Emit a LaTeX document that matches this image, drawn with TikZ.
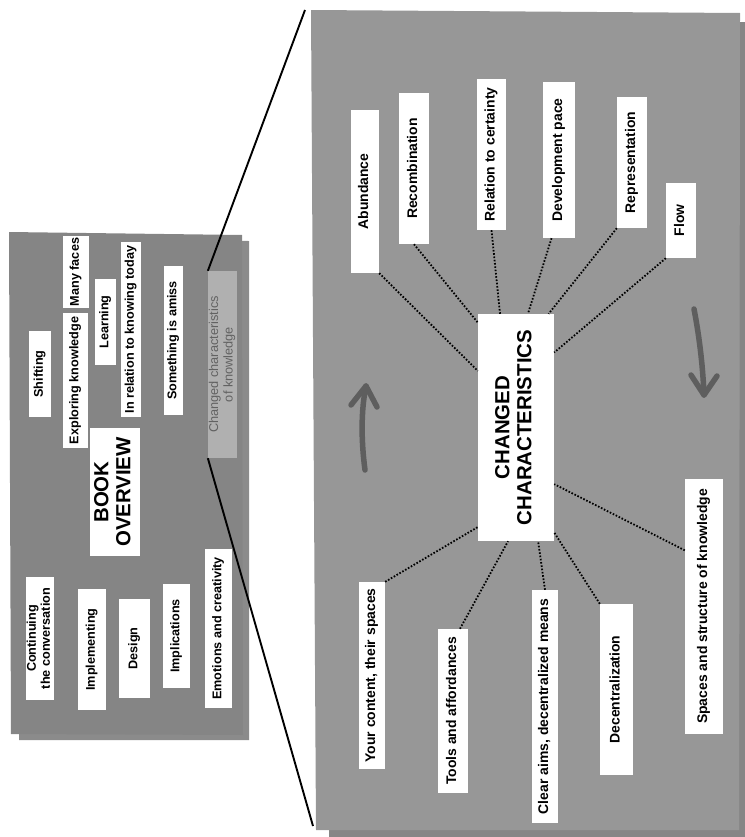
\documentclass[tikz,border=0pt]{standalone}
\usepackage{fontspec}
\usepackage{graphicx}
\setmainfont{Liberation Sans}
\usetikzlibrary{calc}

\definecolor{leftpanel}{HTML}{858585}
\definecolor{leftshadow}{HTML}{8B8B8B}
\definecolor{rightpanel}{HTML}{979797}
\definecolor{rightshadow}{HTML}{868686}
\definecolor{focusfill}{HTML}{B0B0B0}
\definecolor{focustext}{HTML}{626262}
\definecolor{turncolor}{HTML}{5E5E5E}

% text set upright, reading from bottom to top
\newcommand\vlabel[1]{\rotatebox{90}{\begin{tabular}{@{}c@{}}#1\end{tabular}}}

\tikzset{
  card/.style={fill=white, inner sep=0pt, align=center,
    font=\bfseries\fontsize{14}{15.5}\selectfont},
  smallcard/.style={card, font=\bfseries\fontsize{12.7}{14}\selectfont},
  bigcard/.style={card, font=\bfseries\fontsize{20.5}{22}\selectfont},
  focuscard/.style={fill=focusfill, inner sep=0pt, align=center,
    text=focustext, font=\fontsize{12.8}{14.5}\selectfont},
  dotline/.style={black, line width=1.8bp, dash pattern=on 1.6bp off 1.7bp},
  zoomline/.style={black, line width=1.9bp},
  turn/.style={turncolor, line width=5.5bp, line cap=round, line join=round},
}

\begin{document}
\begin{tikzpicture}[x=1bp, y=-1bp]
\useasboundingbox (0,0) rectangle (745,837);

% ---- overview sheet (left) ----
\fill[leftshadow] (19,240) -- (249,241) -- (249,740) -- (19,740) -- cycle;
\fill[leftpanel] (9,232) -- (242,235) -- (243,735) -- (11,734) -- cycle;

% ---- detail sheet (right) ----
\fill[rightshadow] (329,22) -- (745,22) -- (745,837) -- (329,837) -- cycle;
\fill[rightpanel] (311,10) -- (740,13) -- (739,830) -- (316,830) -- cycle;

% ---- overview cards ----
\node[smallcard, minimum width=22bp, minimum height=86bp]  (shift)    at (40,374)     {\vlabel{Shifting}};
\node[smallcard, minimum width=25bp, minimum height=135bp] (explore)  at (75.5,380.5) {\vlabel{Exploring knowledge}};
\node[smallcard, minimum width=26bp, minimum height=72bp]  (faces)    at (76,272)     {\vlabel{Many faces}};
\node[smallcard, minimum width=21bp, minimum height=86bp]  (learning) at (105.5,322)   {\vlabel{Learning}};
\node[smallcard, minimum width=20bp, minimum height=175bp] (knowing)  at (131,329.5)  {\vlabel{In relation to knowing today}};
\node[smallcard, minimum width=19bp, minimum height=149bp] (amiss)    at (173.5,340.5) {\vlabel{Something is amiss}};
\node[focuscard, minimum width=27bp, minimum height=187bp] (ccok)     at (222.5,364.5) {\vlabel{Changed characteristics\\of knowledge}};
\node[bigcard,   minimum width=50bp, minimum height=128bp] (book)     at (115,492)     {\vlabel{BOOK\\OVERVIEW}};
\node[smallcard, minimum width=28bp, minimum height=123bp] (contin)   at (40,638.5)   {\vlabel{Continuing\\the conversation}};
\node[smallcard, minimum width=28bp, minimum height=121bp] (implem)   at (92,649.5)   {\vlabel{Implementing}};
\node[smallcard, minimum width=31bp, minimum height=99bp]  (design)   at (134.5,648.5) {\vlabel{Design}};
\node[smallcard, minimum width=27bp, minimum height=104bp] (implic)   at (176.5,636)  {\vlabel{Implications}};
\node[smallcard, minimum width=27bp, minimum height=159bp] (emotion)  at (218.5,628.5) {\vlabel{Emotions and creativity}};

% ---- zoom lines from the focused card to the detail sheet ----
\coordinate (zt) at (305,10);
\coordinate (zb) at (313,826);
\draw[zoomline] (ccok.north west) -- (zt);
\draw[zoomline] (ccok.south west) -- (zb);

% ---- detail cards ----
\node[bigcard, minimum width=76bp, minimum height=227bp] (cc) at (516,427.5) {\vlabel{CHANGED\\CHARACTERISTICS}};

\node[card, minimum width=28bp, minimum height=163bp] (abund)  at (365,191.5) {\vlabel{Abundance}};
\node[card, minimum width=30bp, minimum height=151bp] (recomb) at (414,168.5) {\vlabel{Recombination}};
\node[card, minimum width=29bp, minimum height=151bp] (rel)    at (491.5,154.5) {\vlabel{Relation to certainty}};
\node[card, minimum width=32bp, minimum height=156bp] (dev)    at (559,160)   {\vlabel{Development pace}};
\node[card, minimum width=30bp, minimum height=131bp] (rep)    at (632,162.5) {\vlabel{Representation}};
\node[card, minimum width=30bp, minimum height=75bp]  (flow)   at (681,220.5) {\vlabel{Flow}};

\node[card, minimum width=26bp, minimum height=187bp] (your)   at (372,675.5) {\vlabel{Your content, their spaces}};
\node[card, minimum width=30bp, minimum height=164bp] (tools)  at (453,711)   {\vlabel{Tools and affordances}};
\node[card, minimum width=26bp, minimum height=233bp] (clear)  at (545,706.5) {\vlabel{Clear aims, decentralized means}};
\node[card, minimum width=33bp, minimum height=171bp] (dec)    at (616.5,689.5) {\vlabel{Decentralization}};
\node[card, minimum width=38bp, minimum height=255bp] (spaces) at (704,606.5) {\vlabel{Spaces and structure of knowledge}};

% ---- dotted spokes ----
\draw[dotline] (abund.south east) -- (cc.124);
\draw[dotline] (recomb.south) -- (cc.110);
\draw[dotline] (rel.south) -- (cc.98);
\draw[dotline] ($(dev.south west)!0.27!(dev.south east)$) -- (cc.84);
\draw[dotline] (rep.south west) -- (cc.74);
\draw[dotline] (flow.south west) -- (cc.63);
\draw[dotline] (your.north east) -- (cc.249);
\draw[dotline] ($(tools.north west)!0.73!(tools.north east)$) -- (cc.266);
\draw[dotline] (clear.north) -- (cc.281);
\draw[dotline] (dec.north west) -- (cc.290);
\draw[dotline] ($(spaces.north west)!0.28!(spaces.south west)$) -- (cc.304);

% ---- circulation arrows ----
\coordinate (ua0) at (365,470);
\coordinate (ua1) at (366,386);
\coordinate (ual) at (351,405);
\coordinate (uar) at (377,407);
\draw[turn] (ua0) .. controls (361,440) and (361,410) .. (ua1);
\draw[turn] (ual) -- (ua1) -- (uar);

\coordinate (da0) at (694,309);
\coordinate (da1) at (704,395);
\coordinate (dal) at (691,375);
\coordinate (dar) at (717,376);
\draw[turn] (da0) .. controls (700,340) and (703,370) .. (da1);
\draw[turn] (dal) -- (da1) -- (dar);
\end{tikzpicture}
\end{document}
